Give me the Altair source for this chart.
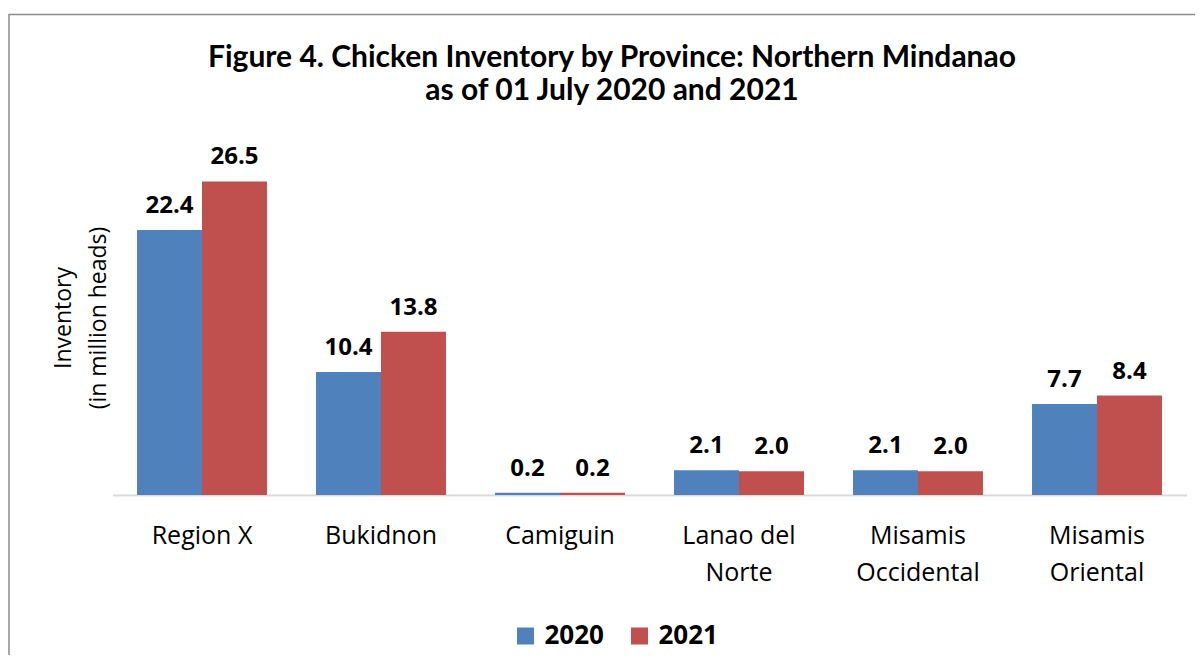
import altair as alt
import pandas as pd

provinces = ["Region X", "Bukidnon", "Camiguin", "Lanao del|Norte",
             "Misamis|Occidental", "Misamis|Oriental"]
years = ["2020", "2021"]
v2020 = [22.4, 10.4, 0.2, 2.1, 2.1, 7.7]
v2021 = [26.5, 13.8, 0.2, 2.0, 2.0, 8.4]
colors = ["#4F81BD", "#C0504D"]

rows = []
for p, a, b in zip(provinces, v2020, v2021):
    rows.append({"province": p, "year": "2020", "value": a, "label": f"{a:.1f}"})
    rows.append({"province": p, "year": "2021", "value": b, "label": f"{b:.1f}"})
df = pd.DataFrame(rows)

FONT = "Open Sans"

x_enc = alt.X(
    "province:N", sort=provinces,
    scale=alt.Scale(paddingInner=0.274, paddingOuter=0.137),
    axis=alt.Axis(title=None, labelExpr="split(datum.value, '|')", labelAngle=0,
                  labelFontSize=25, labelFont=FONT, labelColor="black",
                  labelPadding=28, labelLineHeight=37, labelBaseline="top",
                  ticks=False, domainColor="#d9d9d9", domainWidth=2),
)
xoff = alt.XOffset("year:N", sort=years, scale=alt.Scale(paddingInner=0, paddingOuter=0))
y_enc = alt.Y(
    "value:Q", scale=alt.Scale(domain=[0, 30], nice=False, zero=True),
    axis=alt.Axis(title=["Inventory", "(in million heads)"], labels=False, ticks=False,
                  domain=False, grid=False, titleFontSize=23, titleFont=FONT,
                  titleFontWeight="normal", titleColor="black", titleX=-49,
                  titleY=177.5, titleLineHeight=35, titleBaseline="middle",
                  titleAlign="center"),
)

base = alt.Chart(df).encode(x=x_enc, xOffset=xoff)

bars = base.mark_bar().encode(
    y=y_enc,
    color=alt.Color("year:N", scale=alt.Scale(domain=years, range=colors),
                    legend=alt.Legend(orient="none", legendX=400, legendY=483,
                                      direction="horizontal", title=None,
                                      symbolType="square", symbolSize=289,
                                      symbolStrokeWidth=0, labelFontSize=26,
                                      labelFontWeight="bold", labelFont=FONT,
                                      labelColor="black", columnPadding=22,
                                      labelOffset=6)),
)

text = base.mark_text(dy=-17, baseline="alphabetic", fontSize=24, fontWeight="bold",
                      font=FONT, color="black").encode(
    y=alt.Y("value:Q"), text=alt.Text("label:N"))

frame = alt.Chart(pd.DataFrame({"f": [0]})).mark_rect(
    fillOpacity=0, stroke="#8c8c8c", strokeWidth=1.5).encode(
    x=alt.value(-103.5), x2=alt.value(1120), y=alt.value(-125.5), y2=alt.value(700))

chart = alt.layer(frame, bars, text).properties(
    width=1074, height=355,
    title=alt.TitleParams(
        text=["Figure 4. Chicken Inventory by Province: Northern Mindanao",
              "as of 01 July 2020 and 2021"],
        fontSize=30, font="Lato", fontWeight="bold", anchor="middle", dx=-37.5,
        offset=-92, lineHeight=33, color="black"),
    autosize=alt.AutoSizeParams(type="none"),
    padding={"left": 104.5, "top": 132, "right": 8, "bottom": 160},
).configure_view(stroke=None)

chart.save("out.html", embed_options={"renderer": "svg", "actions": False})
